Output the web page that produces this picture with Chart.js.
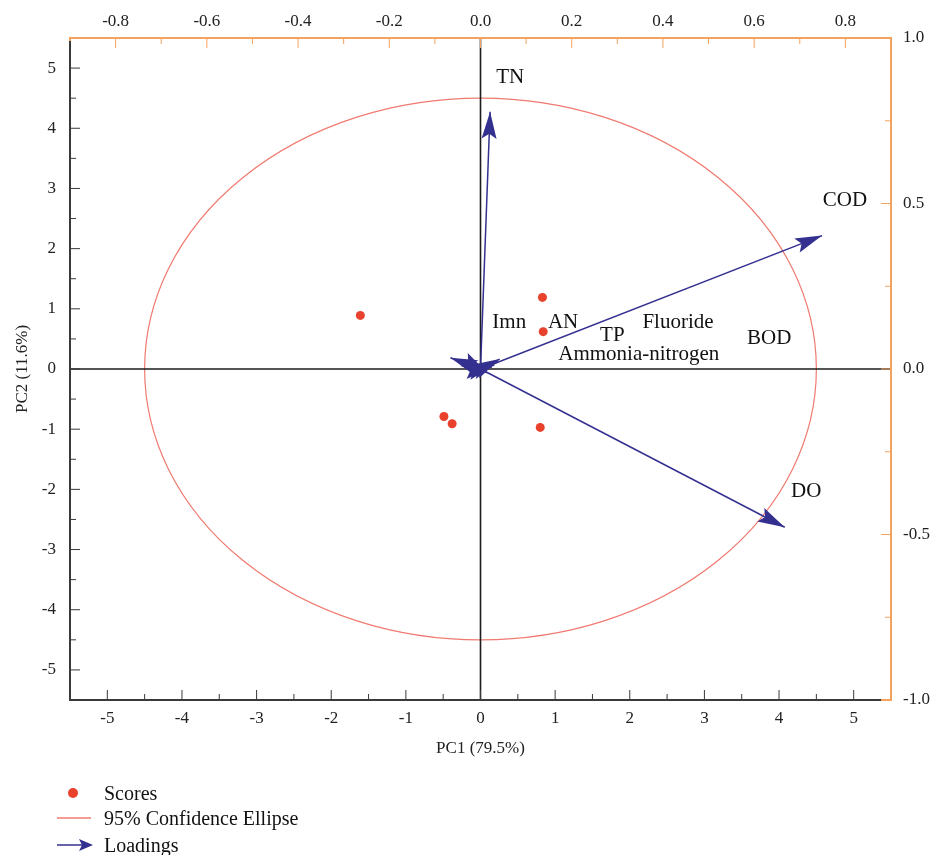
<!DOCTYPE html>
<html><head><meta charset="utf-8">
<script src="https://cdn.jsdelivr.net/npm/chart.js@4.4.0/dist/chart.umd.min.js"></script>
<style>
html,body{margin:0;padding:0;background:#fff;}
#wrap{position:relative;width:934px;height:855px;overflow:hidden;background:#fff;}
#c{position:absolute;left:0;top:0;}
.row{position:absolute;left:50px;height:24px;line-height:24px;font-family:"Liberation Serif",serif;font-size:20px;color:#111;white-space:nowrap;}
.row svg{position:absolute;left:0;top:0;}
.row span{position:absolute;left:54px;top:0;}
</style></head><body>
<div id="wrap">
<canvas id="c" width="934" height="855"></canvas>
<div class="row" style="top:781px"><svg width="50" height="24"><circle cx="23" cy="12" r="5" fill="#e8412c"/></svg><span>Scores</span></div>
<div class="row" style="top:806px"><svg width="50" height="24"><line x1="7" y1="12" x2="41" y2="12" stroke="#f07a70" stroke-width="1.3"/></svg><span>95% Confidence Ellipse</span></div>
<div class="row" style="top:833px"><svg width="50" height="24"><line x1="7" y1="12" x2="32" y2="12" stroke="#34308f" stroke-width="1.5"/><path d="M43 12 L29 6 L32 12 L29 18 Z" fill="#34308f"/></svg><span>Loadings</span></div>
</div>
<script>
// ---- data ----
const scoresPC1 = [-1.61, 0.83, 0.84, -0.49, -0.38, 0.80];
const scoresPC2 = [0.89, 1.19, 0.62, -0.79, -0.91, -0.97];
const loadingNames = ['TN', 'COD', 'DO', 'Imn', 'AN', 'TP', 'Fluoride', 'BOD', 'Ammonia-nitrogen'];
const loadingPC1 = [0.021, 0.749, 0.667, -0.066, 0.038, 0.030, 0.042, 0.025, 0.015];
const loadingPC2 = [0.777, 0.403, -0.478, 0.034, 0.022, 0.012, 0.030, 0.006, -0.012];
const labelPC1 = [0.065, 0.799, 0.714, 0.063, 0.181, 0.289, 0.433, 0.633, 0.347];
const labelPC2 = [0.882, 0.508, -0.370, 0.140, 0.140, 0.101, 0.140, 0.092, 0.044];
const ellipseRadius = [4.5, 4.5];
const scoreTicks = [-5, -4, -3, -2, -1, 0, 1, 2, 3, 4, 5];
const loadingXTicks = [-0.8, -0.6, -0.4, -0.2, 0, 0.2, 0.4, 0.6, 0.8];
const loadingYTicks = [-1, -0.5, 0, 0.5, 1];

// ---- styles ----
const NAVY = '#34308f', RED = '#e8412c', ELL = '#f07a70', ORANGE = '#f5a25e', DARK = '#3a3a3a';
const SERIF = '"Liberation Serif", "Times New Roman", serif';

function midpoints(arr){ const m=[]; for(let i=0;i<arr.length-1;i++) m.push((arr[i]+arr[i+1])/2); return m; }

const pcaPlugin = {
  id: 'pca',
  beforeDatasetsDraw(chart){
    const {ctx, chartArea:a, scales:{x, y}} = chart;
    const x0 = x.getPixelForValue(0), y0 = y.getPixelForValue(0);
    ctx.save();
    ctx.strokeStyle = ELL; ctx.lineWidth = 1.2;
    const rx = x.getPixelForValue(ellipseRadius[0]) - x0;
    const ry = y0 - y.getPixelForValue(ellipseRadius[1]);
    ctx.beginPath(); ctx.ellipse(x0, y0, rx, ry, 0, 0, Math.PI*2); ctx.stroke();
    ctx.strokeStyle = '#1c1c1c'; ctx.lineWidth = 1.6;
    ctx.beginPath(); ctx.moveTo(x0, a.top); ctx.lineTo(x0, a.bottom); ctx.stroke();
    ctx.beginPath(); ctx.moveTo(a.left, y0); ctx.lineTo(a.right, y0); ctx.stroke();
    ctx.restore();
  },
  afterDatasetsDraw(chart){
    const {ctx, chartArea:a, scales:{x, y, x2, y2}} = chart;
    ctx.save();
    const ox = x2.getPixelForValue(0), oy = y2.getPixelForValue(0);
    ctx.fillStyle = NAVY;
    for (let i=0;i<loadingNames.length;i++){
      const tx = x2.getPixelForValue(loadingPC1[i]), ty = y2.getPixelForValue(loadingPC2[i]);
      const ang = Math.atan2(ty-oy, tx-ox);
      ctx.save(); ctx.translate(tx, ty); ctx.rotate(ang);
      ctx.beginPath(); ctx.moveTo(0,0); ctx.lineTo(-27,-7.5); ctx.lineTo(-22,0); ctx.lineTo(-27,7.5); ctx.closePath(); ctx.fill();
      ctx.restore();
    }
    ctx.fillStyle = '#111'; ctx.font = '21px ' + SERIF; ctx.textAlign = 'center'; ctx.textBaseline = 'middle';
    for (let i=0;i<loadingNames.length;i++){
      ctx.fillText(loadingNames[i], x2.getPixelForValue(labelPC1[i]), y2.getPixelForValue(labelPC2[i]));
    }
    ctx.lineWidth = 2;
    ctx.strokeStyle = DARK;
    ctx.beginPath(); ctx.moveTo(a.left, a.top+3); ctx.lineTo(a.left, a.bottom); ctx.lineTo(a.right-10, a.bottom); ctx.stroke();
    ctx.strokeStyle = ORANGE;
    ctx.beginPath(); ctx.moveTo(a.left, a.top+3); ctx.lineTo(a.left, a.top); ctx.lineTo(a.right, a.top); ctx.lineTo(a.right, a.bottom); ctx.lineTo(a.right-10, a.bottom); ctx.stroke();
    ctx.lineWidth = 1;
    const MAJ = 10, MIN = 6;
    ctx.strokeStyle = DARK;
    ctx.beginPath();
    scoreTicks.forEach(v=>{ const px=x.getPixelForValue(v); ctx.moveTo(px,a.bottom); ctx.lineTo(px,a.bottom-MAJ); });
    midpoints(scoreTicks).forEach(v=>{ const px=x.getPixelForValue(v); ctx.moveTo(px,a.bottom); ctx.lineTo(px,a.bottom-MIN); });
    scoreTicks.forEach(v=>{ const py=y.getPixelForValue(v); ctx.moveTo(a.left,py); ctx.lineTo(a.left+MAJ,py); });
    midpoints(scoreTicks).forEach(v=>{ const py=y.getPixelForValue(v); ctx.moveTo(a.left,py); ctx.lineTo(a.left+MIN,py); });
    ctx.stroke();
    ctx.strokeStyle = ORANGE;
    ctx.beginPath();
    loadingXTicks.forEach(v=>{ const px=x2.getPixelForValue(v); ctx.moveTo(px,a.top); ctx.lineTo(px,a.top+MAJ); });
    midpoints(loadingXTicks).forEach(v=>{ const px=x2.getPixelForValue(v); ctx.moveTo(px,a.top); ctx.lineTo(px,a.top+MIN); });
    loadingYTicks.forEach(v=>{ const py=y2.getPixelForValue(v); ctx.moveTo(a.right,py); ctx.lineTo(a.right-MAJ,py); });
    midpoints(loadingYTicks).forEach(v=>{ const py=y2.getPixelForValue(v); ctx.moveTo(a.right,py); ctx.lineTo(a.right-MIN,py); });
    ctx.stroke();
    ctx.restore();
  }
};

const datasets = [];
loadingNames.forEach((n,i)=>{
  datasets.push({
    label: n, xAxisID: 'x2', yAxisID: 'y2', showLine: true,
    data: [{x:0, y:0}, {x:loadingPC1[i], y:loadingPC2[i]}],
    borderColor: NAVY, borderWidth: 1.5, pointRadius: 0, fill: false
  });
});
datasets.push({
  label: 'Scores', xAxisID: 'x', yAxisID: 'y',
  data: scoresPC1.map((v,i)=>({x:v, y:scoresPC2[i]})),
  backgroundColor: RED, borderWidth: 0, pointRadius: 4.5
});

const tickFont = {family: SERIF, size: 17};
new Chart(document.getElementById('c'), {
  type: 'scatter',
  data: {datasets},
  options: {
    responsive: false, animation: false, devicePixelRatio: 1,
    layout: {padding: {left: 0, right: 0, top: 0, bottom: 90}},
    plugins: {legend: {display: false}, tooltip: {enabled: false}},
    scales: {
      x: {type:'linear', position:'bottom', min:-5.5, max:5.5,
        grid:{display:false}, border:{display:false},
        ticks:{font:tickFont, color:'#222', padding:0, maxRotation:0, callback:v=>String(v)},
        afterBuildTicks:s=>{ s.ticks = scoreTicks.map(v=>({value:v})); },
        afterFit:s=>{ s.height = 65; },
        title:{display:true, text:'PC1 (79.5%)', font:{family:SERIF, size:17}, color:'#222', padding:{top:0, bottom:6}}},
      y: {type:'linear', position:'left', min:-5.5, max:5.5,
        grid:{display:false}, border:{display:false},
        ticks:{font:tickFont, color:'#222', padding:6, callback:v=>String(v)},
        afterBuildTicks:s=>{ s.ticks = scoreTicks.map(v=>({value:v})); },
        afterFit:s=>{ s.width = 70; },
        title:{display:true, text:'PC2 (11.6%)', font:{family:SERIF, size:17}, color:'#222', padding:{top:12, bottom:0}}},
      x2: {type:'linear', position:'top', min:-0.9, max:0.9,
        grid:{display:false}, border:{display:false},
        ticks:{font:tickFont, color:'#222', padding:-2, maxRotation:0, callback:v=>Number(v).toFixed(1)},
        afterBuildTicks:s=>{ s.ticks = loadingXTicks.map(v=>({value:v})); },
        afterFit:s=>{ s.height = 38; }},
      y2: {type:'linear', position:'right', min:-1, max:1,
        grid:{display:false}, border:{display:false},
        ticks:{font:tickFont, color:'#222', padding:4, callback:v=>Number(v).toFixed(1)},
        afterBuildTicks:s=>{ s.ticks = loadingYTicks.map(v=>({value:v})); },
        afterFit:s=>{ s.width = 43; }}
    }
  },
  plugins: [pcaPlugin]
});
</script>
</body></html>
